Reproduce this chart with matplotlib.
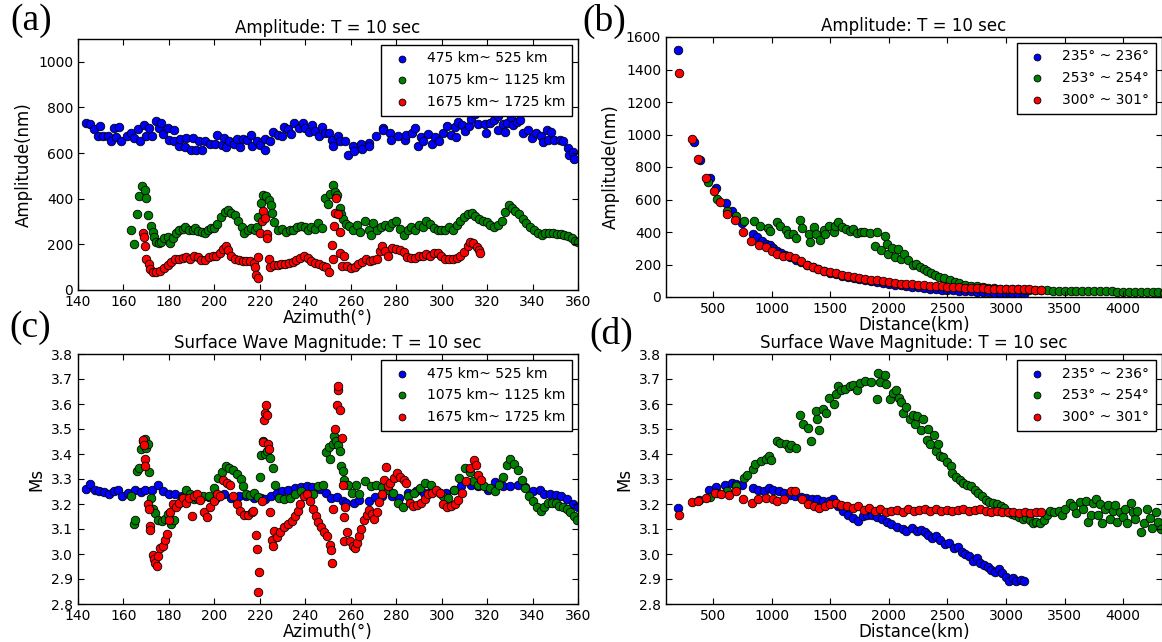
import matplotlib.pyplot as plt
from matplotlib.ticker import FormatStrFormatter

# (azimuth deg, amplitude nm) for the three distance windows
amp_az_near = [
    (143.6, 734), (145.3, 726), (147.1, 706), (148.6, 675), (149.6, 720), (151.2, 675),
    (153.2, 675), (154.4, 653), (155.7, 711), (156.9, 669), (158.2, 714), (159.0, 652),
    (161.5, 675), (163.5, 689), (164.8, 666), (166.5, 704), (167.3, 655), (169.0, 721),
    (170.1, 676), (171.4, 711), (172.6, 676), (174.4, 740), (175.5, 711), (176.7, 733),
    (177.5, 683), (179.4, 711), (180.0, 659), (182.2, 703), (182.2, 652), (184.3, 629),
    (185.0, 662), (187.1, 627), (187.6, 665), (189.6, 615), (190.4, 665), (192.1, 615),
    (193.3, 655), (194.6, 615), (195.9, 651), (197.9, 641), (200.4, 641), (201.2, 678),
    (203.2, 636), (204.2, 668), (205.3, 627), (206.5, 651), (208.7, 639), (209.8, 663),
    (211.1, 627), (212.5, 660), (214.4, 658), (216.1, 678), (216.4, 632), (218.6, 651),
    (220.3, 637), (222.3, 660), (222.3, 612), (224.3, 651), (226.0, 693), (228.0, 680),
    (229.6, 676), (230.6, 714), (232.6, 704), (233.9, 683), (235.1, 731), (237.1, 711),
    (238.9, 734), (240.1, 711), (241.7, 694), (243.1, 721), (244.5, 697), (245.9, 675),
    (247.2, 714), (248.9, 686), (250.5, 686), (251.7, 658), (252.2, 629), (254.2, 675),
    (255.5, 651), (257.5, 652), (258.8, 593), (261.1, 629), (261.6, 607), (264.4, 639),
    (265.0, 620), (268.0, 646), (268.0, 629), (271.2, 675), (274.2, 711), (274.2, 700),
    (277.5, 689), (277.9, 658), (280.9, 675), (283.9, 658), (284.5, 679), (287.1, 686),
    (288.1, 709), (289.4, 629), (291.1, 672), (291.6, 655), (294.1, 683), (295.7, 641),
    (297.1, 672), (299.0, 655), (300.6, 689), (302.3, 717), (304.0, 679), (306.0, 714),
    (306.4, 672), (307.3, 736), (308.9, 721), (310.2, 697), (311.9, 717), (313.1, 750),
    (314.7, 771), (315.9, 726), (318.9, 728), (319.7, 689), (321.4, 731), (323.0, 743),
    (324.7, 764), (324.7, 703), (327.2, 726), (328.0, 693), (328.8, 734), (330.5, 757),
    (331.3, 721), (333.0, 736), (334.6, 743), (335.8, 686), (337.9, 703), (339.6, 666),
    (341.7, 689), (343.7, 675), (344.5, 649), (346.2, 700), (347.0, 658), (348.3, 693),
    (349.5, 658), (352.0, 658), (353.6, 651), (355.6, 622), (356.1, 590), (357.8, 604),
    (358.3, 573),
]
amp_az_mid = [
    (163.2, 262), (164.8, 202), (165.8, 335), (167.0, 410), (168.1, 457), (169.3, 438),
    (169.8, 403), (171.0, 328), (172.3, 281), (172.8, 252), (173.4, 231), (174.4, 212),
    (175.6, 208), (176.7, 212), (178.0, 226), (179.4, 231), (180.5, 205), (181.7, 226),
    (183.3, 248), (184.3, 262), (186.0, 269), (187.1, 276), (188.8, 262), (190.4, 264),
    (191.6, 273), (192.9, 259), (194.6, 255), (195.9, 248), (197.1, 264), (198.7, 273),
    (199.9, 272), (201.2, 290), (202.9, 318), (204.5, 344), (205.8, 349), (207.5, 339),
    (209.1, 330), (210.6, 304), (212.0, 276), (213.1, 248), (214.8, 262), (216.1, 273),
    (217.8, 262), (218.6, 276), (219.4, 318), (220.6, 382), (221.6, 417), (222.8, 410),
    (224.1, 396), (224.8, 372), (225.4, 338), (226.4, 297), (228.1, 262), (229.7, 269),
    (231.4, 255), (233.1, 264), (234.7, 262), (236.4, 276), (238.0, 279), (239.7, 276),
    (241.0, 264), (242.7, 276), (244.3, 269), (245.7, 293), (247.3, 273), (248.9, 403),
    (250.1, 375), (250.9, 420), (252.1, 462), (253.1, 431), (253.9, 417), (255.1, 361),
    (255.9, 332), (256.8, 311), (257.9, 290), (259.3, 279), (260.9, 262), (262.6, 283),
    (264.2, 255), (266.2, 304), (267.9, 262), (268.9, 240), (270.0, 293), (271.7, 262),
    (273.3, 276), (275.0, 283), (276.7, 276), (278.3, 293), (280.0, 304), (281.7, 269),
    (283.3, 240), (285.0, 262), (286.7, 276), (288.3, 264), (290.0, 287), (291.6, 276),
    (293.3, 301), (294.9, 290), (296.6, 273), (298.3, 262), (299.9, 264), (301.6, 262),
    (303.2, 276), (304.9, 264), (306.6, 283), (308.2, 304), (309.9, 321), (311.5, 332),
    (313.2, 339), (314.8, 325), (316.5, 311), (318.2, 301), (319.8, 297), (321.5, 287),
    (323.2, 276), (324.8, 283), (326.5, 304), (328.1, 344), (329.8, 372), (331.0, 358),
    (332.3, 347), (334.0, 332), (335.7, 311), (337.3, 293), (339.0, 276), (340.6, 262),
    (342.3, 248), (344.0, 240), (345.6, 248), (347.3, 250), (349.0, 248), (350.6, 245),
    (352.3, 245), (353.9, 240), (355.6, 236), (357.3, 226), (358.9, 216), (359.9, 211),
]
amp_az_far = [
    (168.5, 250), (169.0, 231), (169.5, 191), (170.1, 137), (171.1, 113), (171.8, 92),
    (173.1, 81), (174.4, 78), (176.1, 85), (177.7, 95), (179.4, 109), (181.0, 123),
    (182.7, 134), (184.3, 137), (186.0, 141), (187.6, 146), (189.3, 137), (190.9, 148),
    (192.6, 146), (194.3, 131), (195.9, 131), (197.6, 146), (199.2, 151), (200.9, 151),
    (202.5, 163), (203.9, 180), (205.2, 191), (206.2, 177), (207.5, 151), (209.1, 137),
    (210.8, 131), (212.5, 127), (214.1, 127), (215.8, 127), (217.4, 120), (219.1, 146),
    (217.8, 99), (218.5, 64), (219.1, 52), (220.3, 248), (221.1, 304), (221.6, 347),
    (222.5, 315), (223.1, 245), (223.1, 226), (224.1, 134), (224.5, 99), (226.1, 109),
    (227.8, 109), (229.4, 113), (231.1, 116), (232.7, 120), (234.4, 123), (236.0, 131),
    (237.7, 141), (239.3, 151), (241.0, 141), (242.7, 127), (244.3, 117), (246.0, 113),
    (247.6, 106), (249.3, 99), (250.6, 81), (251.7, 198), (252.3, 134), (252.6, 279),
    (253.1, 339), (253.4, 403), (254.2, 335), (255.1, 255), (255.5, 160), (256.2, 106),
    (257.2, 148), (258.3, 106), (260.0, 95), (261.7, 99), (263.3, 113), (265.0, 123),
    (266.6, 134), (268.3, 127), (269.9, 131), (271.6, 134), (272.8, 170), (273.8, 191),
    (274.9, 170), (276.6, 148), (278.3, 184), (280.0, 180), (281.6, 174), (283.3, 165),
    (284.9, 146), (286.6, 141), (288.3, 141), (289.9, 148), (291.6, 151), (293.3, 156),
    (294.9, 148), (296.6, 163), (298.3, 160), (299.9, 148), (301.6, 137), (303.2, 137),
    (304.9, 137), (306.6, 141), (308.2, 148), (309.9, 165), (311.5, 191), (312.7, 212),
    (314.0, 205), (315.4, 188), (316.5, 174), (317.0, 163),
]

# (distance km, amplitude nm) for the three azimuth windows
amp_dist_235 = [
    (199, 1523), (335, 951), (389, 845), (478, 730), (525, 669), (611, 579), (661, 532),
    (747, 456), (842, 389), (873, 368), (921, 342), (953, 327), (984, 317), (1016, 301),
    (1047, 286), (1079, 272), (1111, 256), (1158, 245), (1206, 225), (1250, 215),
    (1300, 198), (1350, 182), (1400, 170), (1450, 158), (1500, 150), (1550, 140),
    (1600, 130), (1650, 122), (1700, 115), (1750, 108), (1800, 102), (1850, 96),
    (1900, 90), (1950, 85), (2000, 80), (2050, 75), (2100, 71), (2150, 67), (2200, 63),
    (2250, 59), (2300, 56), (2350, 52), (2400, 49), (2450, 46), (2500, 43), (2550, 41),
    (2600, 38), (2650, 36), (2700, 34), (2750, 32), (2800, 30), (2850, 28), (2900, 26),
    (2950, 25), (3000, 23), (3050, 22), (3100, 21), (3150, 20),
]
amp_dist_253 = [
    (462, 710), (532, 603), (620, 532), (693, 497), (763, 470), (848, 470), (905, 440),
    (968, 423), (984, 409), (1047, 464), (1073, 440), (1120, 415), (1142, 389),
    (1184, 389), (1206, 362), (1247, 474), (1263, 423), (1316, 389), (1332, 337),
    (1364, 429), (1380, 389), (1411, 348), (1449, 415), (1459, 389), (1490, 440),
    (1532, 403), (1538, 436), (1570, 464), (1601, 429), (1633, 419), (1665, 409),
    (1696, 419), (1728, 395), (1759, 399), (1791, 403), (1839, 395), (1886, 313),
    (1902, 399), (1934, 292), (1965, 374), (1981, 327), (1997, 266), (2028, 301),
    (2054, 245), (2076, 297), (2108, 231), (2133, 266), (2165, 225), (2203, 194),
    (2228, 204), (2266, 184), (2297, 174), (2329, 157), (2361, 149), (2392, 133),
    (2424, 123), (2471, 117), (2519, 102), (2566, 92), (2600, 84), (2650, 76), (2700, 70),
    (2750, 66), (2800, 61), (2850, 57), (2900, 54), (2950, 52), (3000, 50), (3050, 48),
    (3100, 47), (3150, 46), (3200, 44), (3250, 43), (3300, 42), (3350, 41), (3400, 40),
    (3450, 40), (3500, 39), (3550, 38), (3600, 38), (3650, 37), (3700, 36), (3750, 36),
    (3800, 35), (3850, 34), (3900, 34), (3950, 33), (4000, 33), (4050, 32), (4100, 31),
    (4150, 31), (4200, 30), (4250, 29), (4300, 28), (4350, 27),
]
amp_dist_300 = [
    (209, 1380), (323, 975), (373, 849), (440, 732), (509, 654), (557, 587), (623, 511),
    (690, 476), (756, 399), (826, 344), (889, 323), (952, 307), (1000, 285), (1050, 265),
    (1100, 255), (1150, 252), (1200, 240), (1250, 222), (1300, 200), (1350, 186),
    (1400, 173), (1450, 163), (1500, 155), (1550, 147), (1600, 138), (1650, 131),
    (1700, 125), (1750, 119), (1800, 112), (1850, 107), (1900, 102), (1950, 96),
    (2000, 92), (2050, 88), (2100, 83), (2150, 80), (2200, 77), (2250, 75), (2300, 72),
    (2350, 69), (2400, 67), (2450, 65), (2500, 63), (2550, 61), (2600, 59), (2650, 58),
    (2700, 56), (2750, 55), (2800, 53), (2850, 52), (2900, 51), (2950, 50), (3000, 49),
    (3050, 49), (3100, 48), (3150, 47), (3200, 47), (3250, 46), (3300, 45),
]

# (azimuth deg, Ms)
ms_az_near = [
    (143.6, 3.261), (145.3, 3.281), (147.5, 3.255), (149.4, 3.252), (151.6, 3.249),
    (153.6, 3.242), (155.7, 3.252), (157.4, 3.255), (159.4, 3.232), (161.9, 3.245),
    (165.2, 3.255), (167.7, 3.248), (169.7, 3.258), (172.7, 3.255), (175.2, 3.275),
    (177.6, 3.252), (180.1, 3.242), (182.6, 3.239), (185.9, 3.232), (188.4, 3.239),
    (190.9, 3.232), (194.2, 3.226), (197.5, 3.229), (200.8, 3.226), (204.1, 3.239),
    (207.5, 3.226), (210.8, 3.231), (214.1, 3.232), (217.4, 3.223), (220.7, 3.223),
    (222.4, 3.219), (224.9, 3.232), (227.4, 3.245), (229.9, 3.252), (232.3, 3.255),
    (235.7, 3.265), (238.1, 3.268), (240.6, 3.271), (243.1, 3.268), (246.4, 3.262),
    (249.3, 3.245), (251.4, 3.226), (253.9, 3.229), (256.4, 3.213), (258.0, 3.206),
    (261.4, 3.206), (263.8, 3.216), (268.0, 3.213), (270.5, 3.229), (273.8, 3.232),
    (278.0, 3.232), (281.3, 3.226), (285.4, 3.245), (288.7, 3.252), (292.1, 3.245),
    (295.4, 3.252), (299.5, 3.245), (302.0, 3.245), (305.3, 3.258), (308.7, 3.271),
    (312.8, 3.277), (316.1, 3.271), (320.3, 3.258), (323.6, 3.288), (326.9, 3.271),
    (330.2, 3.271), (333.5, 3.275), (336.8, 3.268), (340.2, 3.252), (343.1, 3.258),
    (345.1, 3.242), (347.6, 3.239), (350.1, 3.236), (352.6, 3.232), (355.1, 3.219),
    (357.6, 3.200), (360.0, 3.187),
]
ms_az_mid = [
    (163.5, 3.232), (164.7, 3.122), (165.2, 3.138), (166.0, 3.332), (166.8, 3.345),
    (167.7, 3.421), (168.5, 3.453), (169.3, 3.462), (170.1, 3.423), (170.7, 3.440),
    (171.3, 3.330), (172.3, 3.226), (173.2, 3.181), (174.0, 3.164), (175.1, 3.135),
    (176.8, 3.132), (178.4, 3.142), (179.6, 3.161), (180.9, 3.122), (182.3, 3.138),
    (183.9, 3.200), (185.9, 3.226), (187.6, 3.258), (189.2, 3.239), (190.9, 3.219),
    (192.5, 3.226), (195.0, 3.232), (197.5, 3.232), (200.0, 3.265), (201.7, 3.304),
    (203.3, 3.330), (205.0, 3.353), (206.6, 3.343), (208.3, 3.336), (209.9, 3.319),
    (211.6, 3.301), (212.8, 3.271), (214.1, 3.242), (215.8, 3.236), (217.4, 3.245),
    (219.1, 3.229), (219.9, 3.310), (220.7, 3.395), (221.6, 3.453), (222.4, 3.401),
    (223.2, 3.414), (224.4, 3.384), (225.8, 3.343), (226.6, 3.275), (228.3, 3.226),
    (230.8, 3.219), (233.3, 3.223), (235.7, 3.242), (238.2, 3.252), (240.7, 3.242),
    (243.2, 3.242), (245.6, 3.271), (247.6, 3.275), (249.0, 3.408), (250.3, 3.427),
    (251.1, 3.382), (252.3, 3.440), (252.8, 3.473), (253.6, 3.453), (254.4, 3.436),
    (255.3, 3.414), (255.9, 3.353), (256.4, 3.332), (257.2, 3.297), (258.9, 3.278),
    (260.5, 3.245), (262.2, 3.278), (263.8, 3.239), (266.3, 3.291), (268.8, 3.271),
    (271.3, 3.278), (273.8, 3.268), (276.3, 3.258), (278.8, 3.245), (280.8, 3.206),
    (283.0, 3.187), (285.4, 3.232), (287.9, 3.245), (290.4, 3.265), (292.9, 3.284),
    (295.4, 3.278), (297.9, 3.252), (300.4, 3.232), (302.9, 3.226), (305.3, 3.258),
    (307.8, 3.304), (310.3, 3.343), (312.3, 3.330), (314.0, 3.291), (316.1, 3.278),
    (318.6, 3.271), (321.1, 3.265), (323.6, 3.252), (325.3, 3.278), (326.9, 3.310),
    (328.6, 3.356), (330.2, 3.379), (331.9, 3.362), (333.5, 3.336), (335.2, 3.297),
    (336.8, 3.265), (338.5, 3.232), (340.2, 3.213), (341.8, 3.187), (343.5, 3.174),
    (345.1, 3.187), (346.8, 3.206), (348.4, 3.203), (350.1, 3.203), (351.8, 3.194),
    (353.4, 3.187), (355.1, 3.181), (356.7, 3.168), (358.4, 3.151), (359.7, 3.138),
]
ms_az_far = [
    (168.8, 3.457), (169.0, 3.436), (169.7, 3.382), (169.7, 3.353), (170.9, 3.200),
    (171.4, 3.181), (171.9, 3.112), (171.9, 3.096), (172.8, 2.995), (173.5, 2.982),
    (174.0, 2.966), (174.8, 2.951), (175.2, 2.992), (176.2, 3.025), (177.4, 3.034),
    (178.2, 3.057), (179.0, 3.081), (179.9, 3.138), (180.7, 3.168), (181.8, 3.200),
    (183.2, 3.187), (184.5, 3.203), (186.2, 3.226), (187.3, 3.206), (189.0, 3.223),
    (190.1, 3.151), (191.1, 3.232), (192.3, 3.239), (193.9, 3.216), (195.6, 3.168),
    (196.8, 3.148), (198.1, 3.187), (199.8, 3.213), (201.1, 3.239), (202.3, 3.232),
    (204.0, 3.297), (205.6, 3.284), (206.8, 3.278), (208.1, 3.232), (209.8, 3.200),
    (211.4, 3.174), (213.1, 3.158), (214.7, 3.155), (216.4, 3.168), (217.2, 3.174),
    (218.4, 3.077), (218.7, 3.021), (219.7, 2.927), (219.1, 2.849), (220.8, 3.213),
    (221.2, 3.447), (221.9, 3.538), (222.4, 3.564), (222.7, 3.596), (223.2, 3.558),
    (223.6, 3.440), (224.1, 3.421), (224.6, 3.168), (225.2, 3.057), (225.8, 3.031),
    (226.3, 3.093), (227.4, 3.070), (229.1, 3.090), (230.8, 3.109), (232.4, 3.122),
    (234.1, 3.132), (235.7, 3.151), (236.6, 3.174), (237.9, 3.200), (239.6, 3.232),
    (240.7, 3.239), (241.9, 3.213), (243.2, 3.181), (244.6, 3.151), (245.7, 3.129),
    (246.9, 3.109), (248.3, 3.090), (249.6, 3.073), (250.7, 3.038), (251.2, 3.016),
    (251.6, 2.966), (252.4, 3.181), (253.3, 3.499), (253.8, 3.596), (254.3, 3.655),
    (254.6, 3.674), (255.5, 3.577), (256.2, 3.466), (256.4, 3.278), (257.0, 3.148),
    (257.5, 3.187), (257.0, 3.051), (258.4, 3.090), (259.7, 3.051), (260.9, 3.031),
    (261.7, 3.025), (262.6, 3.044), (263.7, 3.073), (264.7, 3.099), (265.9, 3.135),
    (267.1, 3.158), (268.1, 3.177), (269.2, 3.161), (270.4, 3.142), (271.4, 3.168),
    (272.6, 3.210), (273.7, 3.239), (274.7, 3.297), (275.4, 3.349), (276.4, 3.271),
    (277.5, 3.284), (279.2, 3.304), (280.4, 3.323), (281.7, 3.310), (283.4, 3.297),
    (284.2, 3.284), (285.9, 3.203), (287.5, 3.194), (289.2, 3.197), (290.8, 3.206),
    (292.5, 3.219), (294.2, 3.239), (295.8, 3.245), (297.5, 3.258), (299.1, 3.245),
    (300.8, 3.200), (302.5, 3.187), (304.1, 3.194), (305.8, 3.200), (307.4, 3.216),
    (309.1, 3.245), (310.8, 3.291), (312.4, 3.343), (314.1, 3.375), (315.2, 3.358),
    (316.2, 3.317), (317.4, 3.297),
]

# (distance km, Ms)
ms_dist_235 = [
    (202, 3.183), (382, 3.217), (470, 3.255), (524, 3.268), (603, 3.277), (659, 3.284),
    (697, 3.281), (744, 3.277), (839, 3.265), (886, 3.258), (934, 3.252), (981, 3.265),
    (1013, 3.258), (1060, 3.252), (1107, 3.245), (1155, 3.235), (1202, 3.232),
    (1249, 3.230), (1297, 3.226), (1344, 3.219), (1391, 3.219), (1438, 3.213),
    (1486, 3.213), (1524, 3.219), (1565, 3.194), (1612, 3.174), (1650, 3.157),
    (1691, 3.145), (1738, 3.132), (1776, 3.152), (1817, 3.157), (1858, 3.157),
    (1896, 3.148), (1943, 3.139), (1984, 3.129), (2022, 3.119), (2069, 3.110),
    (2117, 3.101), (2148, 3.093), (2196, 3.103), (2237, 3.093), (2274, 3.097),
    (2306, 3.088), (2338, 3.077), (2369, 3.065), (2401, 3.071), (2438, 3.058),
    (2479, 3.039), (2511, 3.045), (2552, 3.026), (2590, 3.028), (2621, 3.010),
    (2653, 3.000), (2685, 2.994), (2716, 2.974), (2754, 2.984), (2779, 2.964),
    (2811, 2.955), (2842, 2.948), (2874, 2.938), (2905, 2.929), (2937, 2.942),
    (2968, 2.923), (3000, 2.910), (3025, 2.894), (3057, 2.903), (3088, 2.894),
    (3126, 2.897), (3151, 2.894),
]
ms_dist_253 = [
    (476, 3.230), (533, 3.245), (618, 3.252), (697, 3.271), (767, 3.303), (792, 3.316),
    (839, 3.342), (861, 3.359), (912, 3.374), (950, 3.381), (981, 3.394), (997, 3.377),
    (1044, 3.454), (1076, 3.445), (1123, 3.441), (1145, 3.423), (1170, 3.436),
    (1208, 3.423), (1243, 3.557), (1265, 3.519), (1312, 3.506), (1334, 3.452),
    (1375, 3.574), (1391, 3.539), (1407, 3.497), (1438, 3.581), (1461, 3.565),
    (1492, 3.626), (1533, 3.600), (1549, 3.639), (1565, 3.674), (1596, 3.655),
    (1628, 3.661), (1669, 3.674), (1691, 3.677), (1732, 3.658), (1754, 3.686),
    (1801, 3.694), (1849, 3.690), (1896, 3.622), (1912, 3.723), (1927, 3.690),
    (1965, 3.716), (1975, 3.681), (2007, 3.622), (2038, 3.645), (2060, 3.655),
    (2085, 3.626), (2101, 3.609), (2123, 3.565), (2148, 3.587), (2180, 3.542),
    (2205, 3.555), (2227, 3.519), (2243, 3.552), (2274, 3.497), (2290, 3.539),
    (2322, 3.458), (2338, 3.500), (2353, 3.439), (2385, 3.475), (2401, 3.413),
    (2416, 3.439), (2438, 3.394), (2464, 3.387), (2495, 3.368), (2527, 3.351),
    (2543, 3.325), (2574, 3.310), (2606, 3.297), (2637, 3.286), (2669, 3.277),
    (2700, 3.271), (2732, 3.258), (2763, 3.243), (2795, 3.232), (2826, 3.217),
    (2858, 3.209), (2889, 3.206), (2921, 3.200), (2953, 3.194), (2984, 3.183),
    (3016, 3.170), (3047, 3.161), (3079, 3.157), (3110, 3.148), (3142, 3.142),
    (3174, 3.148), (3205, 3.135), (3227, 3.123), (3259, 3.129), (3290, 3.123),
    (3322, 3.135), (3347, 3.155), (3379, 3.174), (3410, 3.170), (3448, 3.174),
    (3480, 3.157), (3505, 3.181), (3543, 3.206), (3568, 3.194), (3593, 3.165),
    (3631, 3.209), (3656, 3.181), (3678, 3.213), (3700, 3.129), (3726, 3.155),
    (3741, 3.206), (3763, 3.219), (3782, 3.157), (3804, 3.200), (3820, 3.123),
    (3845, 3.181), (3867, 3.196), (3883, 3.139), (3909, 3.174), (3931, 3.196),
    (3946, 3.129), (3972, 3.168), (3994, 3.148), (4016, 3.181), (4035, 3.123),
    (4066, 3.206), (4079, 3.168), (4104, 3.139), (4120, 3.174), (4151, 3.088),
    (4173, 3.123), (4199, 3.181), (4224, 3.145), (4246, 3.106), (4277, 3.170),
    (4293, 3.129), (4318, 3.101),
]
ms_dist_300 = [
    (214, 3.157), (325, 3.209), (375, 3.213), (445, 3.226), (514, 3.243), (565, 3.239),
    (634, 3.235), (697, 3.252), (760, 3.222), (830, 3.206), (886, 3.219), (950, 3.226),
    (1013, 3.219), (1044, 3.213), (1107, 3.222), (1164, 3.252), (1202, 3.252),
    (1259, 3.222), (1312, 3.200), (1360, 3.191), (1407, 3.183), (1454, 3.194),
    (1502, 3.200), (1549, 3.204), (1596, 3.196), (1644, 3.191), (1691, 3.183),
    (1738, 3.194), (1785, 3.178), (1833, 3.183), (1880, 3.174), (1927, 3.181),
    (1975, 3.170), (2022, 3.174), (2069, 3.178), (2117, 3.170), (2164, 3.181),
    (2211, 3.174), (2259, 3.178), (2306, 3.181), (2353, 3.174), (2401, 3.181),
    (2448, 3.174), (2495, 3.178), (2543, 3.174), (2590, 3.178), (2637, 3.181),
    (2685, 3.174), (2732, 3.178), (2779, 3.181), (2826, 3.174), (2874, 3.170),
    (2921, 3.174), (2968, 3.170), (3016, 3.168), (3063, 3.168), (3110, 3.165),
    (3158, 3.168), (3205, 3.165), (3252, 3.168), (3300, 3.170),
]

dist_labels = ["475 km~ 525 km", "1075 km~ 1125 km", "1675 km~ 1725 km"]
az_labels = ["235\u00b0 ~ 236\u00b0", "253\u00b0 ~ 254\u00b0", "300\u00b0 ~ 301\u00b0"]
colors = ["b", "g", "r"]


def draw(ax, series, labels):
    for pts, color, label in zip(series, colors, labels):
        x = [p[0] for p in pts]
        y = [p[1] for p in pts]
        ax.scatter(x, y, s=38, c=color, edgecolors="k", linewidths=0.6, label=label)
    leg = ax.legend(loc="upper right", scatterpoints=1, fancybox=False,
                    framealpha=1, fontsize=10, borderpad=0.5, labelspacing=0.55,
                    handletextpad=0.8, borderaxespad=0.4, markerscale=0.8)
    leg.get_frame().set_edgecolor("k")
    leg.get_frame().set_linewidth(1.0)
    ax.tick_params(direction="in", top=True, right=True, labelsize=10, length=4)
    for sp in ax.spines.values():
        sp.set_linewidth(1.0)


fig = plt.figure(figsize=(11.62, 6.42), dpi=100)
W, H = 1162.0, 642.0


def add_axes(left, top, right, bottom):
    return fig.add_axes([left / W, 1 - bottom / H, (right - left) / W, (bottom - top) / H])


ax_a = add_axes(78, 39, 578, 290)
ax_b = add_axes(666, 37, 1162, 297)
ax_c = add_axes(78, 354, 578, 604)
ax_d = add_axes(666, 354, 1162, 604)

draw(ax_a, [amp_az_near, amp_az_mid, amp_az_far], dist_labels)
ax_a.set_xlim(140, 360)
ax_a.set_ylim(0, 1100)
ax_a.set_yticks([0, 200, 400, 600, 800, 1000])
ax_a.set_xticks(range(140, 361, 20))
ax_a.set_title("Amplitude: T = 10 sec", fontsize=12, pad=4)
ax_a.set_xlabel("Azimuth(\u00b0)", fontsize=12, labelpad=0)
ax_a.set_ylabel("Amplitude(nm)", fontsize=12)

draw(ax_b, [amp_dist_235, amp_dist_253, amp_dist_300], az_labels)
ax_b.set_xlim(100, 4330)
ax_b.set_ylim(0, 1600)
ax_b.set_xticks([500, 1000, 1500, 2000, 2500, 3000, 3500, 4000])
ax_b.set_yticks(range(0, 1601, 200))
ax_b.set_title("Amplitude: T = 10 sec", fontsize=12, pad=4)
ax_b.set_xlabel("Distance(km)", fontsize=12, labelpad=0)
ax_b.set_ylabel("Amplitude(nm)", fontsize=12)

draw(ax_c, [ms_az_near, ms_az_mid, ms_az_far], dist_labels)
ax_c.set_xlim(140, 360)
ax_c.set_ylim(2.8, 3.8)
ax_c.set_xticks(range(140, 361, 20))
ax_c.set_yticks([2.8, 2.9, 3.0, 3.1, 3.2, 3.3, 3.4, 3.5, 3.6, 3.7, 3.8])
ax_c.yaxis.set_major_formatter(FormatStrFormatter("%.1f"))
ax_c.set_title("Surface Wave Magnitude: T = 10 sec", fontsize=12, pad=4)
ax_c.set_xlabel("Azimuth(\u00b0)", fontsize=12, labelpad=0)
ax_c.set_ylabel("Ms", fontsize=12)

draw(ax_d, [ms_dist_235, ms_dist_253, ms_dist_300], az_labels)
ax_d.set_xlim(100, 4330)
ax_d.set_ylim(2.8, 3.8)
ax_d.set_xticks([500, 1000, 1500, 2000, 2500, 3000, 3500, 4000])
ax_d.set_yticks([2.8, 2.9, 3.0, 3.1, 3.2, 3.3, 3.4, 3.5, 3.6, 3.7, 3.8])
ax_d.yaxis.set_major_formatter(FormatStrFormatter("%.1f"))
ax_d.set_title("Surface Wave Magnitude: T = 10 sec", fontsize=12, pad=4)
ax_d.set_xlabel("Distance(km)", fontsize=12, labelpad=0)
ax_d.set_ylabel("Ms", fontsize=12)

# panel letters
for label, x, y in [("(a)", 31, 21), ("(b)", 604, 21), ("(c)", 30, 328), ("(d)", 611, 334)]:
    fig.text(x / W, 1 - y / H, label, family="Liberation Serif", fontsize=27,
             ha="center", va="center")

fig.savefig("out.png", dpi=100)
